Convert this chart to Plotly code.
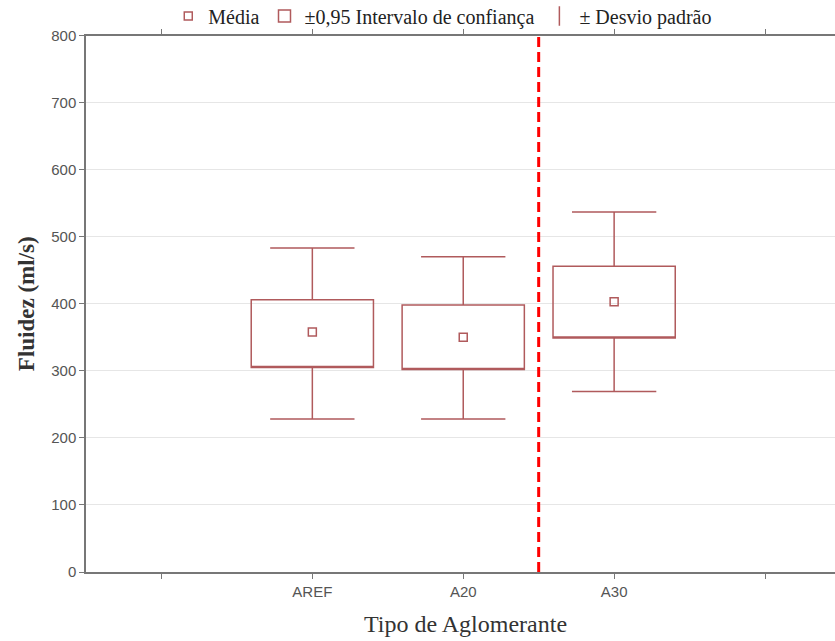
import plotly.graph_objects as go

# ---- data ----
categories = ["AREF", "A20", "A30"]
positions = [1, 2, 3]
mean_vals = [358, 350, 403]
ci_low = [305, 302, 349]
ci_high = [406, 398, 456]
sd_low = [228, 228, 269]
sd_high = [483, 470, 537]
tick_positions = [0, 1, 2, 3, 4]
tick_labels = ["", "AREF", "A20", "A30", ""]
divider_x = 2.5
y_ticks = [0, 100, 200, 300, 400, 500, 600, 700, 800]

col = "#b05a5c"
serif = "Liberation Serif, Times New Roman, serif"
sans = "Liberation Sans, Arial, sans-serif"

fig = go.Figure()

fig.add_trace(go.Scatter(
    x=positions, y=mean_vals, mode="markers", name="Média",
    marker=dict(symbol="square-open", size=8, color=col, line=dict(width=1.5, color=col)),
))

fig.add_trace(go.Box(
    x=positions, q1=ci_low, median=ci_low, q3=ci_high,
    lowerfence=sd_low, upperfence=sd_high,
    name="±0,95 Intervalo de confiança",
    width=0.81, whiskerwidth=0.69,
    fillcolor="rgba(255,255,255,0)", line=dict(color=col, width=1.5),
    boxpoints=False,
))

fig.add_trace(go.Scatter(
    x=[None], y=[None], mode="markers", name="± Desvio padrão",
    marker=dict(symbol="line-ns-open", size=14, color=col, line=dict(width=1.5, color=col)),
))

fig.add_trace(go.Scatter(
    x=[divider_x, divider_x], y=[0, 800], mode="lines", showlegend=False,
    line=dict(color="#ff0000", width=3, dash="10px,5px"), hoverinfo="skip",
))

fig.update_layout(
    width=845, height=641,
    margin=dict(l=86, r=0, t=31, b=69),
    paper_bgcolor="white", plot_bgcolor="white",
    showlegend=True,
    legend=dict(orientation="h", xref="container", x=0.524, xanchor="center",
                yref="container", y=0.975, yanchor="middle",
                font=dict(family=serif, size=20, color="#222"),
                bgcolor="rgba(0,0,0,0)", itemwidth=30),
    xaxis=dict(range=[-0.5, 4.53], tickmode="array", tickvals=tick_positions, ticktext=tick_labels,
               automargin=False,
               showgrid=False, zeroline=False, showline=True, linecolor="#777", linewidth=1.5,
               mirror="ticks", ticks="outside", ticklen=5, tickcolor="#777",
               tickfont=dict(family=sans, size=15, color="#555"),
               title=dict(text="Tipo de Aglomerante", font=dict(family=serif, size=24, color="#333"), standoff=16)),
    yaxis=dict(range=[0, 800], tickmode="array", tickvals=y_ticks,
               automargin=False,
               showgrid=True, gridcolor="#e6e6e6", gridwidth=1, zeroline=False,
               showline=True, linecolor="#777", linewidth=1.5, ticks="outside", ticklen=5, tickcolor="#777",
               tickfont=dict(family=sans, size=15, color="#555"),
               title=dict(text="<b>Fluidez (ml/s)</b>", font=dict(family=serif, size=23, color="#333"), standoff=10)),
)

fig.write_html("out.html", config={"displayModeBar": False},
               post_script="document.body.style.margin='0px';document.body.style.overflow='hidden';")
